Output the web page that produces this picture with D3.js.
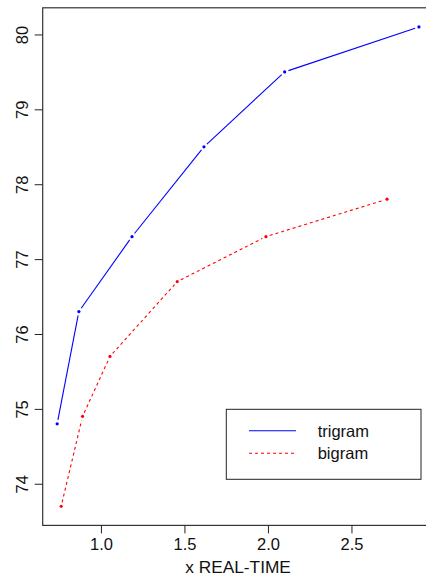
<!DOCTYPE html>
<html><head><meta charset="utf-8">
<script src="https://cdn.jsdelivr.net/npm/d3@7"></script>
<style>body{margin:0;background:#fff}svg{display:block}text{font-family:"Liberation Sans",Arial,sans-serif}</style>
</head><body>
<script>
const seriesNames = ["trigram", "bigram"];
const trigramX = [0.738, 0.868, 1.186, 1.617, 2.10, 2.904];
const trigramY = [74.8, 76.3, 77.3, 78.5, 79.5, 80.1];
const bigramX = [0.762, 0.89, 1.054, 1.457, 1.988, 2.713];
const bigramY = [73.7, 74.9, 75.7, 76.7, 77.3, 77.8];
const xTicks = [1.0, 1.5, 2.0, 2.5];
const yTicks = [74, 75, 76, 77, 78, 79, 80];
const xLabel = "x REAL-TIME";

const W = 426, H = 576;
const svg = d3.select("body").append("svg").attr("width", W).attr("height", H);
const fs = 16.5;

// R-style 4% expansion
const allX = trigramX.concat(bigramX), allY = trigramY.concat(bigramY);
const xr = d3.extent(allX), yr = d3.extent(allY);
const xpad = (xr[1]-xr[0])*0.04, ypad = (yr[1]-yr[0])*0.04;
const x = d3.scaleLinear().domain([xr[0]-xpad, xr[1]+xpad]).range([42.7, 433.4]);
const y = d3.scaleLinear().domain([yr[0]-ypad, yr[1]+ypad]).range([525.4, 7.8]);

const L = x.range()[0], R = x.range()[1], T = y.range()[1], B = y.range()[0];
// box
svg.append("rect").attr("x", L).attr("y", T).attr("width", R-L).attr("height", B-T)
  .attr("fill", "none").attr("stroke", "#333").attr("stroke-width", 1.2);

// x axis
const xa = svg.append("g").attr("transform", `translate(0,${B})`)
  .call(d3.axisBottom(x).tickValues(xTicks).tickFormat(d3.format(".1f")).tickSize(8).tickPadding(5));
xa.select(".domain").remove();
xa.selectAll("line").attr("stroke", "#222");
xa.selectAll("text").attr("font-size", fs).attr("fill", "#111")
  .attr("font-family", '"Liberation Sans",Arial,sans-serif');

// y axis
const ya = svg.append("g").attr("transform", `translate(${L},0)`)
  .call(d3.axisLeft(y).tickValues(yTicks).tickFormat(d3.format("d")).tickSize(8));
ya.select(".domain").remove();
ya.selectAll("line").attr("stroke", "#222");
ya.selectAll("text").remove();
ya.selectAll(".tick").append("text")
  .attr("transform", `translate(${28.3 - L},0) rotate(-90)`)
  .attr("text-anchor", "middle").attr("font-size", fs).attr("fill", "#111")
  .text(d => d3.format("d")(d));

// x label
svg.append("text").attr("x", (L+R)/2).attr("y", 573).attr("text-anchor", "middle")
  .attr("font-size", 17.3).attr("fill", "#111").text(xLabel);

// series, type "b"
const series = [
  {name: seriesNames[0], xs: trigramX, ys: trigramY, color: "#0000ff", dash: null},
  {name: seriesNames[1], xs: bigramX, ys: bigramY, color: "#ff0000", dash: "3,3"}
];
const gap = 4;
series.forEach(s => {
  const pts = s.xs.map((v, i) => [x(v), y(s.ys[i])]);
  const g = svg.append("g");
  for (let i = 0; i < pts.length - 1; i++) {
    const [x0, y0] = pts[i], [x1, y1] = pts[i+1];
    const d = Math.hypot(x1-x0, y1-y0);
    if (d <= 2*gap) continue;
    const ux = (x1-x0)/d, uy = (y1-y0)/d;
    g.append("line").attr("x1", x0+ux*gap).attr("y1", y0+uy*gap)
      .attr("x2", x1-ux*gap).attr("y2", y1-uy*gap)
      .attr("stroke", s.color).attr("stroke-width", 1.1)
      .attr("stroke-dasharray", s.dash);
  }
  g.selectAll("circle").data(pts).join("circle")
    .attr("cx", d => d[0]).attr("cy", d => d[1]).attr("r", 1.6).attr("fill", s.color);
});

// legend
const lg = svg.append("g");
lg.append("rect").attr("x", 226.3).attr("y", 409.3).attr("width", 194.7).attr("height", 70)
  .attr("fill", "#fff").attr("stroke", "#222").attr("stroke-width", 1);
series.forEach((s, i) => {
  const yy = 430.7 + i*22.6;
  lg.append("line").attr("x1", 249).attr("x2", 296).attr("y1", yy).attr("y2", yy)
    .attr("stroke", s.color).attr("stroke-width", 1.1).attr("stroke-dasharray", s.dash);
  lg.append("text").attr("x", 317.7).attr("y", yy + 6).attr("font-size", fs).attr("fill", "#111")
    .text(s.name);
});
</script>
</body></html>
